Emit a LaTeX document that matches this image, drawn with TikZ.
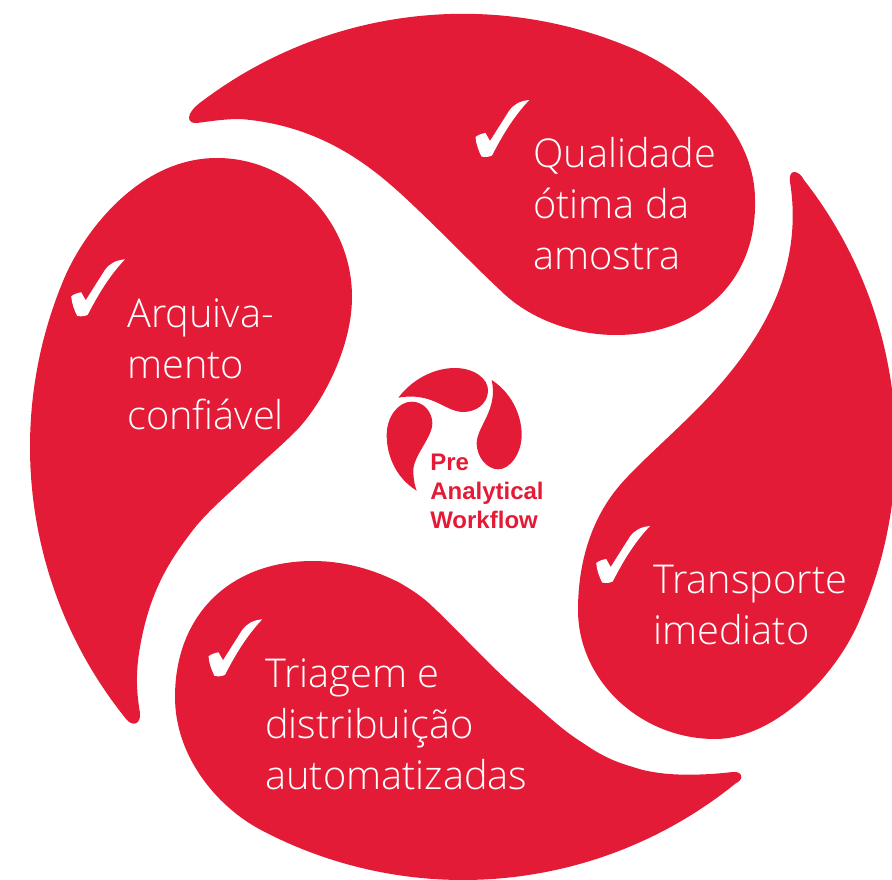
\documentclass[tikz,border=0pt]{standalone}
\usepackage{fontspec}
\setmainfont{Liberation Sans}
\newfontfamily\lightfont{Open Sans Light}
\definecolor{rochered}{RGB}{227,27,55}
\tikzset{
  petal/.style={fill=rochered,draw=none},
  label text/.style={text=white,anchor=north west,align=left,inner sep=0pt,font=\lightfont\fontsize{29.8}{38.25}\selectfont},
  logo text/.style={text=rochered,anchor=north west,align=left,inner sep=0pt,font=\bfseries\fontsize{18}{21.75}\selectfont},
  check/.pic={\fill[white] (69.3,0) .. controls (60,1) and (54,4) .. (49,11) -- (30,41) -- (25.5,33) .. controls (22,33.5) and (18,35) .. (15.5,37) .. controls (16,44) and (19,52) .. (21.5,56.5) .. controls (25,57.5) and (29,57) .. (32,55.5) .. controls (40,40) and (52,18) .. cycle;}
}
\begin{document}
\begin{tikzpicture}[x=.75pt,y=-.75pt]
\useasboundingbox (0,0) rectangle (892,880);
\begin{scope}
\clip (0,0) rectangle (892,880);
% top petal
\fill[petal] (202.4,101) arc[start angle=233,end angle=293,radius=433]
  .. controls (690,73) and (755,130) .. (755,200)
  .. controls (757,285) and (695,335) .. (616,335)
  .. controls (575,335) and (530,320) .. (500,290)
  .. controls (470,262) and (435,225) .. (400,193)
  .. controls (370,166) and (320,125) .. (240,119)
  .. controls (225,119) and (212,121) .. (197,123)
  .. controls (187,124) and (184,114) .. (202.4,101) -- cycle;
% right petal
\fill[petal] (804,180) arc[start angle=322,end angle=383,radius=433]
  .. controls (838,675) and (775,739) .. (715,739)
  .. controls (640,739) and (578,680) .. (578,610)
  .. controls (578,565) and (590,520) .. (620,485)
  .. controls (640,462) and (672,435) .. (703,403)
  .. controls (735,370) and (760,335) .. (775,300)
  .. controls (790,265) and (797,225) .. (790,182)
  .. controls (788,168) and (799,170) .. (804,180) -- cycle;
% bottom petal
\fill[petal] (735.5,783.5) arc[start angle=51,end angle=118,radius=433]
  .. controls (215,805) and (175,755) .. (175,697)
  .. controls (175,615) and (230,561) .. (313,561)
  .. controls (345,561) and (375,570) .. (400,583)
  .. controls (412,590) and (423,597) .. (433,607)
  .. controls (450,623) and (466,640) .. (483,657)
  .. controls (500,674) and (515,688) .. (533,703)
  .. controls (550,718) and (565,732) .. (583,743)
  .. controls (600,755) and (615,762) .. (633,767)
  .. controls (650,773) and (680,778) .. (733,772)
  .. controls (742,771) and (745,779) .. (735.5,783.5) -- cycle;
% left petal
\fill[petal] (126.5,719.5) arc[start angle=141,end angle=203,radius=433]
  .. controls (85,230) and (140,158) .. (217,158)
  .. controls (290,158) and (352,220) .. (352,297)
  .. controls (352,345) and (325,400) .. (297,430)
  .. controls (280,447) and (262,462) .. (243,480)
  .. controls (225,497) and (207,512) .. (193,530)
  .. controls (170,560) and (150,590) .. (140,647)
  .. controls (135,675) and (137,695) .. (140,713)
  .. controls (141,724) and (133,727) .. (126.5,719.5) -- cycle;
\end{scope}
% checks
\pic at (460,100) {check};
\pic at (55.7,259.3) {check};
\pic at (580.7,526) {check};
\pic at (193,619.3) {check};
% labels
\node[label text] (q) at (533,137) {Qualidade\\ótima da\\amostra};
\node[label text] (a) at (127,298) {Arquiva-\\mento\\confiável};
\node[label text] (t) at (653,565) {Transporte\\imediato};
\node[label text] (d) at (265,658) {Triagem e\\distribuição\\automatizadas};
% logo
\begin{scope}[shift={(370,350)},scale=1/3]
\fill[petal] (85,143) .. controls (125,90) and (190,54) .. (255,54)
  .. controls (310,54) and (357,85) .. (354,125)
  .. controls (351,165) and (315,186) .. (280,186)
  .. controls (225,186) and (190,125) .. (85,143) -- cycle;
\fill[petal] (140,422) .. controls (80,385) and (50,320) .. (50,255)
  .. controls (50,200) and (85,155) .. (125,155)
  .. controls (160,155) and (187,185) .. (187,220)
  .. controls (187,265) and (125,320) .. (130,370)
  .. controls (131,390) and (135,410) .. (140,422) -- cycle;
\fill[petal] (365,90) .. controls (420,125) and (455,190) .. (455,255)
  .. controls (455,310) and (420,358) .. (385,358)
  .. controls (350,358) and (320,320) .. (320,280)
  .. controls (320,230) and (385,180) .. (365,90) -- cycle;
\end{scope}
\node[logo text] (logo) at (430,454) {Pre\\Analytical\\Workflow};
\end{tikzpicture}
\end{document}
